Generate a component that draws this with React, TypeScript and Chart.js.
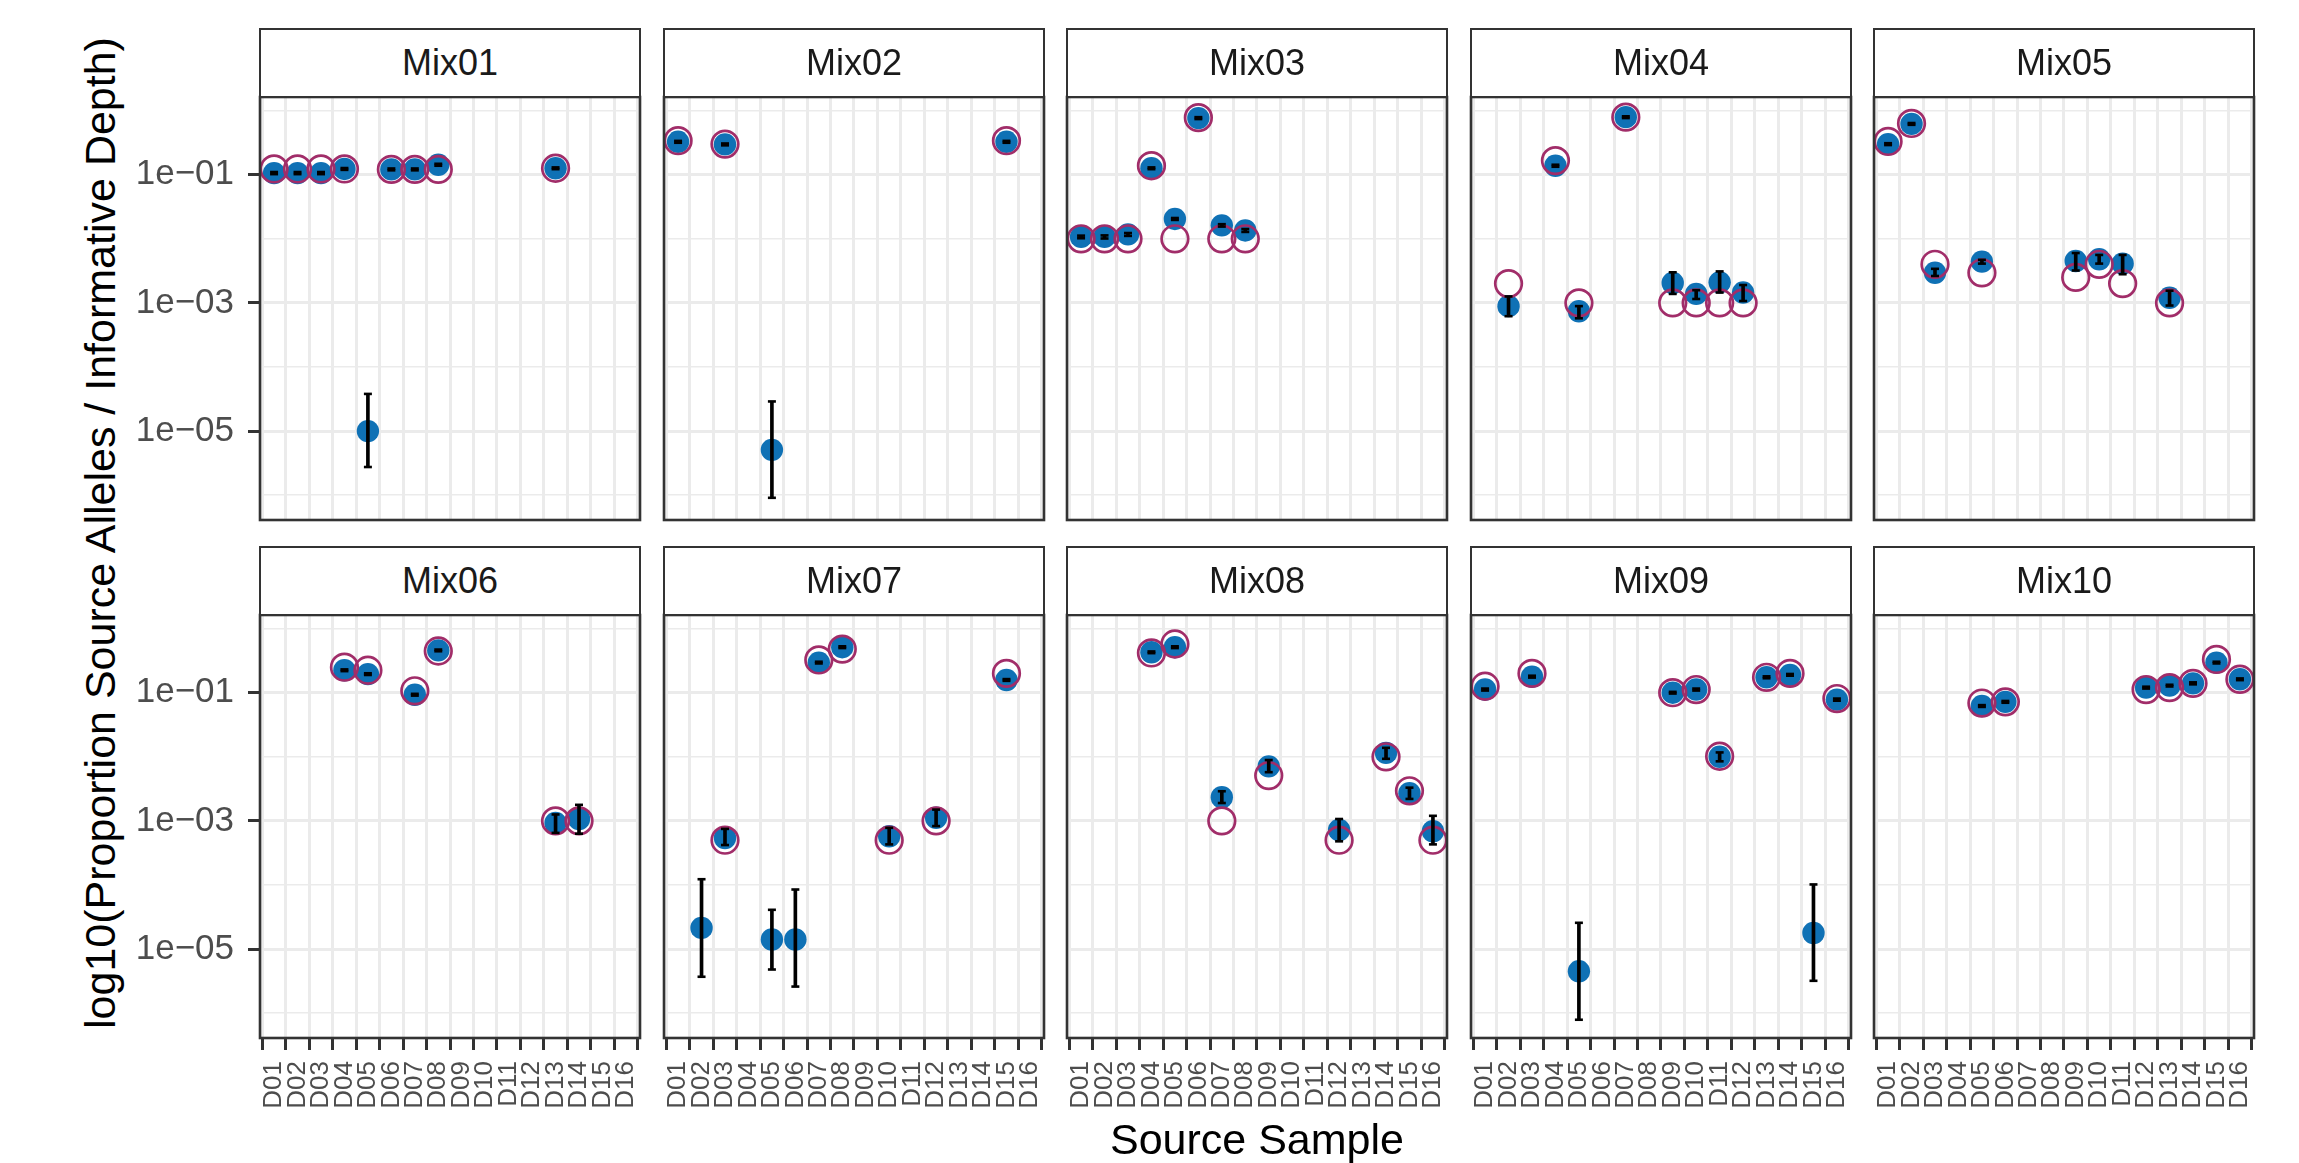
import React, { useEffect, useRef } from "react";
import { Chart, registerables } from "chart.js";

Chart.register(...registerables);

const FONT = '"Liberation Sans", Arial, Helvetica, sans-serif';
const BLUE = "#0F71B5";
const MAGENTA = "#A12D69";

const sourceLabels = ["D01", "D02", "D03", "D04", "D05", "D06", "D07", "D08", "D09", "D10", "D11", "D12", "D13", "D14", "D15", "D16"];
const mixNames = ["Mix01", "Mix02", "Mix03", "Mix04", "Mix05", "Mix06", "Mix07", "Mix08", "Mix09", "Mix10"];
const yTickValues = [1e-6, 1e-5, 1e-4, 1e-3, 1e-2, 1e-1, 1];
const yTickLabels = ["", "1e\u221205", "", "1e\u221203", "", "1e\u221201", ""];
const yMajor = [false, true, false, true, false, true, false];
const yMin = 4.1e-7;
const yMax = 1.63;

const n = null;

// observed proportion (blue), CI low / high (black), expected (open circle)
const mix01Obs = [0.106, 0.106, 0.106, 0.123, 1.0e-5, 0.121, 0.121, 0.143, n, n, n, n, 0.126, n, n, n];
const mix01Lo = [0.102, 0.102, 0.102, 0.119, 2.75e-6, 0.117, 0.117, 0.138, n, n, n, n, 0.122, n, n, n];
const mix01Hi = [0.110, 0.110, 0.110, 0.127, 3.8e-5, 0.125, 0.125, 0.148, n, n, n, n, 0.130, n, n, n];
const mix01Exp = [0.123, 0.123, 0.123, 0.123, n, 0.121, 0.121, 0.121, n, n, n, n, 0.126, n, n, n];

const mix02Obs = [0.326, n, 0.297, n, 5.1e-6, n, n, n, n, n, n, n, n, n, 0.326, n];
const mix02Lo = [0.315, n, 0.287, n, 9.1e-7, n, n, n, n, n, n, n, n, n, 0.315, n];
const mix02Hi = [0.337, n, 0.307, n, 2.9e-5, n, n, n, n, n, n, n, n, n, 0.337, n];
const mix02Exp = [0.339, n, 0.300, n, n, n, n, n, n, n, n, n, n, n, 0.339, n];

const mix03Obs = [0.0107, 0.0107, 0.0117, 0.126, 0.0204, 0.764, 0.0162, 0.0135, n, n, n, n, n, n, n, n];
const mix03Lo = [0.0102, 0.0101, 0.0111, 0.122, 0.0197, 0.738, 0.0155, 0.0128, n, n, n, n, n, n, n, n];
const mix03Hi = [0.0112, 0.0113, 0.0123, 0.130, 0.0211, 0.790, 0.0169, 0.0142, n, n, n, n, n, n, n, n];
const mix03Exp = [0.010, 0.010, 0.010, 0.138, 0.010, 0.776, 0.010, 0.010, n, n, n, n, n, n, n, n];

const mix04Obs = [n, 8.9e-4, n, 0.138, 7.4e-4, n, 0.79, n, 2.04e-3, 1.38e-3, 2.09e-3, 1.45e-3, n, n, n, n];
const mix04Lo = [n, 6.2e-4, n, 0.133, 5.75e-4, n, 0.765, n, 1.38e-3, 1.15e-3, 1.45e-3, 1.07e-3, n, n, n, n];
const mix04Hi = [n, 1.26e-3, n, 0.143, 8.9e-4, n, 0.815, n, 3.0e-3, 1.58e-3, 3.1e-3, 1.9e-3, n, n, n, n];
const mix04Exp = [n, 2.0e-3, n, 0.166, 1.0e-3, n, 0.79, n, 1.0e-3, 1.0e-3, 1.0e-3, 1.0e-3, n, n, n, n];

const mix05Obs = [0.30, 0.62, 2.95e-3, n, 4.4e-3, n, n, n, 4.5e-3, 4.8e-3, 4.1e-3, n, 1.2e-3, n, n, n];
const mix05Lo = [0.29, 0.60, 2.63e-3, n, 4.1e-3, n, n, n, 3.2e-3, 4.1e-3, 2.8e-3, n, 9.1e-4, n, n, n];
const mix05Hi = [0.31, 0.64, 3.4e-3, n, 4.7e-3, n, n, n, 6.0e-3, 5.6e-3, 5.6e-3, n, 1.55e-3, n, n, n];
const mix05Exp = [0.33, 0.63, 4.0e-3, n, 2.95e-3, n, n, n, 2.5e-3, 4.0e-3, 2.0e-3, n, 1.0e-3, n, n, n];

const mix06Obs = [n, n, n, 0.224, 0.195, n, 0.093, 0.457, n, n, n, n, 9.3e-4, 1.07e-3, n, n];
const mix06Lo = [n, n, n, 0.217, 0.189, n, 0.090, 0.443, n, n, n, n, 6.5e-4, 6.3e-4, n, n];
const mix06Hi = [n, n, n, 0.231, 0.201, n, 0.096, 0.471, n, n, n, n, 1.26e-3, 1.78e-3, n, n];
const mix06Exp = [n, n, n, 0.250, 0.224, n, 0.107, 0.447, n, n, n, n, 1.0e-3, 1.0e-3, n, n];

const mix07Obs = [n, 2.14e-5, 5.4e-4, n, 1.41e-5, 1.41e-5, 0.295, 0.513, n, 5.75e-4, n, 1.12e-3, n, n, 0.158, n];
const mix07Lo = [n, 3.7e-6, 4.2e-4, n, 4.8e-6, 2.6e-6, 0.286, 0.497, n, 4.3e-4, n, 8.3e-4, n, n, 0.153, n];
const mix07Hi = [n, 1.23e-4, 7.5e-4, n, 4.1e-5, 8.5e-5, 0.304, 0.529, n, 7.8e-4, n, 1.5e-3, n, n, 0.163, n];
const mix07Exp = [n, n, 5.0e-4, n, n, n, 0.324, 0.479, n, 5.0e-4, n, 1.0e-3, n, n, 0.200, n];

const mix08Obs = [n, n, n, 0.427, 0.513, n, 2.34e-3, n, 7.1e-3, n, n, 7.2e-4, n, 0.0115, 2.7e-3, 6.9e-4];
const mix08Lo = [n, n, n, 0.414, 0.497, n, 1.9e-3, n, 5.75e-3, n, n, 4.8e-4, n, 9.3e-3, 2.2e-3, 4.3e-4];
const mix08Hi = [n, n, n, 0.440, 0.529, n, 2.9e-3, n, 8.9e-3, n, n, 1.07e-3, n, 0.0138, 3.3e-3, 1.2e-3];
const mix08Exp = [n, n, n, 0.417, 0.575, n, 1.0e-3, n, 5.1e-3, n, n, 5.0e-4, n, 0.010, 2.95e-3, 5.0e-4];

const mix09Obs = [0.112, n, 0.178, n, 4.5e-6, n, n, n, 0.100, 0.112, 0.0100, n, 0.174, 0.190, 1.78e-5, 0.078];
const mix09Lo = [0.108, n, 0.172, n, 7.9e-7, n, n, n, 0.097, 0.108, 0.0085, n, 0.168, 0.184, 3.2e-6, 0.075];
const mix09Hi = [0.116, n, 0.184, n, 2.57e-5, n, n, n, 0.103, 0.116, 0.0117, n, 0.180, 0.196, 1.02e-4, 0.081];
const mix09Exp = [0.126, n, 0.200, n, n, n, n, n, 0.100, 0.112, 0.0102, n, 0.174, 0.200, n, 0.081];

const mix10Obs = [n, n, n, n, 0.062, 0.072, n, n, n, n, n, 0.120, 0.129, 0.140, 0.295, 0.162];
const mix10Lo = [n, n, n, n, 0.060, 0.0697, n, n, n, n, n, 0.116, 0.125, 0.135, 0.286, 0.157];
const mix10Hi = [n, n, n, n, 0.064, 0.0743, n, n, n, n, n, 0.124, 0.133, 0.145, 0.304, 0.167];
const mix10Exp = [n, n, n, n, 0.069, 0.072, n, n, n, n, n, 0.112, 0.120, 0.140, 0.330, 0.162];

const obsList = [mix01Obs, mix02Obs, mix03Obs, mix04Obs, mix05Obs, mix06Obs, mix07Obs, mix08Obs, mix09Obs, mix10Obs];
const loList = [mix01Lo, mix02Lo, mix03Lo, mix04Lo, mix05Lo, mix06Lo, mix07Lo, mix08Lo, mix09Lo, mix10Lo];
const hiList = [mix01Hi, mix02Hi, mix03Hi, mix04Hi, mix05Hi, mix06Hi, mix07Hi, mix08Hi, mix09Hi, mix10Hi];
const expList = [mix01Exp, mix02Exp, mix03Exp, mix04Exp, mix05Exp, mix06Exp, mix07Exp, mix08Exp, mix09Exp, mix10Exp];

// layout
const COL_LEFT = [260, 664, 1067, 1471, 1874];
const ROW_TOP = [97, 615];
const PW = 380;
const PH = 423;
const STRIP_H = 69;
const YAXIS_W = 130;
const XAXIS_H = 90;
const PAD = 4;

const borderPlugin = {
  id: "panelBorder",
  afterDraw(chart: any) {
    const { ctx, chartArea: a } = chart;
    ctx.save();
    ctx.strokeStyle = "#333333";
    ctx.lineWidth = 2.6;
    ctx.strokeRect(a.left, a.top, a.right - a.left, a.bottom - a.top);
    ctx.restore();
  },
};

function Panel({ idx }: { idx: number }) {
  const ref = useRef<HTMLCanvasElement>(null);
  const col = idx % 5;
  const row = Math.floor(idx / 5);
  const showY = col === 0;
  const showX = row === 1;
  const left = COL_LEFT[col] - (showY ? YAXIS_W : 0) - PAD;
  const top = ROW_TOP[row] - PAD;
  const w = PW + (showY ? YAXIS_W : 0) + 2 * PAD;
  const h = PH + (showX ? XAXIS_H : 0) + 2 * PAD;

  useEffect(() => {
    const obs = obsList[idx];
    const lo = loList[idx];
    const hi = hiList[idx];
    const ex = expList[idx];
    const obsPts: any[] = [];
    const expPts: any[] = [];
    const stemPts: any[] = [];
    const whiskPts: any[] = [];
    for (let k = 0; k < sourceLabels.length; k++) {
      if (obs[k] != null) obsPts.push({ x: k + 1, y: obs[k] });
      if (ex[k] != null) expPts.push({ x: k + 1, y: ex[k] });
      if (lo[k] != null && hi[k] != null) {
        stemPts.push({ x: k + 1, y: [lo[k], hi[k]] });
        whiskPts.push({ x: k + 1, y: lo[k] });
        whiskPts.push({ x: k + 1, y: hi[k] });
      }
    }
    const chart = new Chart(ref.current as HTMLCanvasElement, {
      type: "scatter",
      data: {
        datasets: [
          {
            type: "bar",
            data: stemPts,
            backgroundColor: "#000000",
            barThickness: 3,
            order: 0,
            clip: 0,
          } as any,
          {
            type: "scatter",
            data: whiskPts,
            pointStyle: "line",
            pointRadius: 4,
            borderWidth: 2.6,
            borderColor: "#000000",
            order: 1,
            clip: 0,
          } as any,
          {
            type: "scatter",
            data: expPts,
            pointRadius: 13.3,
            borderWidth: 2.7,
            borderColor: MAGENTA,
            backgroundColor: "rgba(0,0,0,0)",
            order: 2,
            clip: 0,
          } as any,
          {
            type: "scatter",
            data: obsPts,
            pointRadius: 11.2,
            borderWidth: 0,
            backgroundColor: BLUE,
            order: 3,
            clip: 0,
          } as any,
        ],
      },
      options: {
        responsive: false,
        animation: false,
        events: [],
        layout: { padding: PAD, autoPadding: false },
        plugins: { legend: { display: false }, tooltip: { enabled: false }, title: { display: false } },
        scales: {
          x: {
            type: "linear",
            min: 0.4,
            max: 16.6,
            offset: false,
            bounds: "data",
            afterBuildTicks: (s: any) => {
              s.ticks = sourceLabels.map((_, i) => ({ value: i + 1 }));
            },
            afterFit: (s: any) => {
              s.height = showX ? XAXIS_H : 0;
              s.paddingLeft = 0;
              s.paddingRight = 0;
              s.paddingTop = 0;
              s.paddingBottom = 0;
            },
            ticks: {
              display: showX,
              autoSkip: false,
              minRotation: 90,
              maxRotation: 90,
              padding: 11,
              color: "#4D4D4D",
              font: { family: FONT, size: 26 },
              callback: (v: any, i: number) => sourceLabels[i],
            },
            grid: {
              color: "#EBEBEB",
              lineWidth: 3,
              drawTicks: showX,
              tickLength: 12,
              tickColor: "#333333",
              tickWidth: 3,
            },
            border: { display: false },
          },
          y: {
            type: "logarithmic",
            min: yMin,
            max: yMax,
            bounds: "data",
            afterBuildTicks: (s: any) => {
              s.ticks = yTickValues.map((v) => ({ value: v }));
            },
            afterFit: (s: any) => {
              s.width = showY ? YAXIS_W : 0;
              s.paddingLeft = 0;
              s.paddingRight = 0;
              s.paddingTop = 0;
              s.paddingBottom = 0;
            },
            ticks: {
              display: showY,
              padding: 14,
              color: "#4D4D4D",
              font: { family: FONT, size: 35 },
              callback: (v: any, i: number) => yTickLabels[i],
            },
            grid: {
              color: "#EBEBEB",
              lineWidth: (ctx: any) => (yMajor[ctx.index] ? 3 : 1.6),
              drawTicks: showY,
              tickLength: 12,
              tickColor: (ctx: any) => (yMajor[ctx.index] ? "#333333" : "rgba(0,0,0,0)"),
              tickWidth: 3,
            },
            border: { display: false },
          },
        },
      } as any,
      plugins: [borderPlugin],
    });
    return () => chart.destroy();
  }, [idx]);

  return (
    <canvas
      ref={ref}
      width={w}
      height={h}
      style={{ position: "absolute", left, top, width: w, height: h }}
    />
  );
}

function Strip({ idx }: { idx: number }) {
  const col = idx % 5;
  const row = Math.floor(idx / 5);
  return (
    <div
      style={{
        position: "absolute",
        left: COL_LEFT[col] - 1,
        top: ROW_TOP[row] - STRIP_H,
        width: PW + 2,
        height: STRIP_H + 1,
        boxSizing: "border-box",
        border: "2px solid #333333",
        background: "#FFFFFF",
        color: "#1A1A1A",
        fontFamily: FONT,
        fontSize: 36,
        lineHeight: `${STRIP_H - 3}px`,
        textAlign: "center",
      }}
    >
      {mixNames[idx]}
    </div>
  );
}

export default function App() {
  return (
    <div
      style={{
        position: "absolute",
        left: 0,
        top: 0,
        width: 2299,
        height: 1163,
        background: "#FFFFFF",
        overflow: "hidden",
        fontFamily: FONT,
      }}
    >
      {mixNames.map((_, i) => (
        <Panel key={"p" + i} idx={i} />
      ))}
      {mixNames.map((_, i) => (
        <Strip key={"s" + i} idx={i} />
      ))}
      <div
        style={{
          position: "absolute",
          left: 100 - 550,
          top: 533 - 25,
          width: 1100,
          height: 50,
          lineHeight: "50px",
          fontSize: 43,
          color: "#000000",
          textAlign: "center",
          whiteSpace: "nowrap",
          transform: "rotate(-90deg)",
          transformOrigin: "50% 50%",
        }}
      >
        log10(Proportion Source Alleles / Informative Depth)
      </div>
      <div
        style={{
          position: "absolute",
          left: 1257 - 300,
          top: 1114,
          width: 600,
          height: 50,
          lineHeight: "50px",
          fontSize: 43,
          color: "#000000",
          textAlign: "center",
          whiteSpace: "nowrap",
        }}
      >
        Source Sample
      </div>
    </div>
  );
}
